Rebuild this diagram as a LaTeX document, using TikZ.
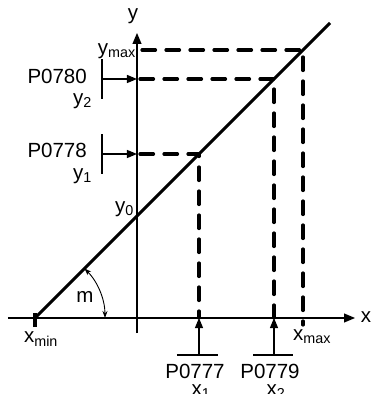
\documentclass[tikz,border=0pt]{standalone}
\usepackage{fontspec}
\setmainfont{Liberation Sans}
\usetikzlibrary{arrows.meta}

\tikzset{
  axis/.style={line width=1.2pt,-{Triangle[length=11pt,width=9pt]}},
  curve/.style={line width=3pt},
  proj/.style={line width=3.2pt,dash pattern=on 13.5pt off 10.5pt,line cap=round},
  param/.style={line width=1.2pt,-{Triangle[length=10pt,width=8pt]}},
  bar/.style={line width=1.2pt},
  lbl/.style={inner sep=0pt,font=\fontsize{20.5}{22}\selectfont}
}

\begin{document}
\begin{tikzpicture}[x=1pt,y=1pt]
  \useasboundingbox (-137,-76) rectangle (234,318);

  % axes
  \coordinate (xstart) at (-129,0);
  \coordinate (xend) at (218,0);
  \coordinate (ystart) at (0,-15);
  \coordinate (yend) at (0,285);
  \draw[axis] (xstart) -- (xend);
  \draw[axis] (ystart) -- (yend);
  \node[lbl] (xlab) at (229,1) {x};
  \node[lbl] (ylab) at (-4,302) {y};

  % characteristic
  \coordinate (xmin) at (-102,0);
  \coordinate (y0) at (0,102);
  \coordinate (top) at (193,295);
  \draw[curve] (xmin) -- (top);
  \draw[line width=3.2pt] (-102,-9) -- (-102,5);

  % points on the line
  \coordinate (p1) at (62,164);
  \coordinate (p2) at (137,239);
  \coordinate (pm) at (166,268);
  \coordinate (y1) at (3,164);
  \coordinate (y2) at (3,239);
  \coordinate (ym) at (5,268);
  \coordinate (x1) at (62,0);
  \coordinate (x2) at (137,0);
  \coordinate (xm) at (166,-7);
  \draw[proj] (y1) -- (p1) -- (x1);
  \draw[proj] (y2) -- (p2) -- (x2);
  \draw[proj] (ym) -- (pm) -- (xm);

  % parameter inputs on y
  \coordinate (b2) at (-35,239);
  \coordinate (b1) at (-35,164);
  \coordinate (t2) at (0,239);
  \coordinate (t1) at (0,164);
  \draw[bar] (-35,219) -- (-35,259);
  \draw[bar] (-35,144) -- (-35,184);
  \draw[param] (b2) -- (t2);
  \draw[param] (b1) -- (t1);

  % parameter inputs on x
  \coordinate (c1) at (62,-37);
  \coordinate (c2) at (137,-37);
  \draw[bar] (40,-37) -- (81,-37);
  \draw[bar] (116,-37) -- (156,-37);
  \draw[param] (c1) -- (x1);
  \draw[param] (c2) -- (x2);

  % slope
  \draw[line width=0.9pt,{Stealth[length=7pt,width=5pt]}-{Stealth[length=7pt,width=5pt]}]
    (-32,0) arc[start angle=0,end angle=45,radius=70];
  \node[lbl] (mlab) at (-52,21) {m};

  % labels
  \node[lbl,anchor=east] (ymaxlab) at (-1,267) {y\textsubscript{max}};
  \node[lbl,anchor=east] (P0780) at (-50,242) {P0780};
  \node[lbl,anchor=east] (y2lab) at (-45,217) {y\textsubscript{2}};
  \node[lbl,anchor=east] (P0778) at (-50,168) {P0778};
  \node[lbl,anchor=east] (y1lab) at (-45,142) {y\textsubscript{1}};
  \node[lbl,anchor=east] (y0lab) at (-3,109) {y\textsubscript{0}};
  \node[lbl] (xminlab) at (-96,-21) {x\textsubscript{min}};
  \node[lbl] (xmaxlab) at (175,-19) {x\textsubscript{max}};
  \node[lbl] (P0777) at (58,-53) {P0777};
  \node[lbl] (x1lab) at (64,-74) {x\textsubscript{1}};
  \node[lbl] (P0779) at (133,-53) {P0779};
  \node[lbl] (x2lab) at (139,-74) {x\textsubscript{2}};
\end{tikzpicture}
\end{document}
